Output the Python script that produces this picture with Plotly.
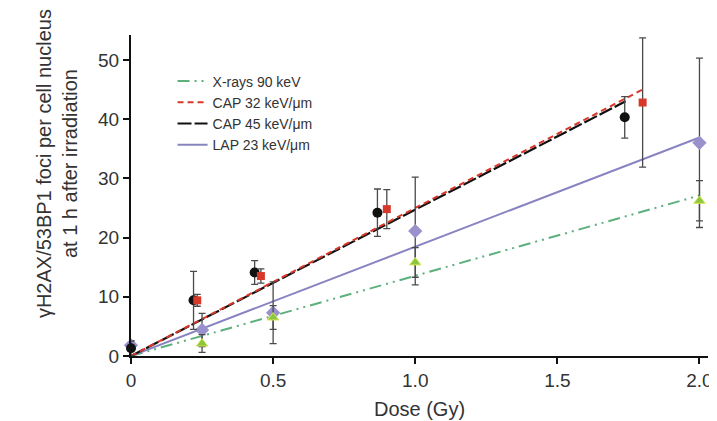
import plotly.graph_objects as go

# ---- data ----
xray_x = [0.25, 0.5, 1.0, 2.0]
xray_y = [2.1, 6.5, 15.8, 26.2]
xray_err = [1.5, 2.0, 2.5, 3.4]

cap32_x = [0.233, 0.457, 0.90, 1.80]
cap32_y = [9.4, 13.5, 24.8, 42.8]
cap32_err = [1.0, 1.2, 3.3, 10.9]

cap45_x = [0.0, 0.22, 0.435, 0.867, 1.737]
cap45_y = [1.3, 9.4, 14.1, 24.2, 40.3]
cap45_err = [1.2, 4.9, 2.0, 4.0, 3.5]

lap_x = [0.0, 0.25, 0.5, 1.0, 2.0]
lap_y = [1.8, 4.4, 7.3, 21.1, 36.0]
lap_err = [0.8, 2.8, 5.2, 9.1, 14.3]

# linear fits (through origin), endpoints
fit_xray_x, fit_xray_y = [0, 2.0], [0, 27.1]
fit_cap32_x, fit_cap32_y = [0, 1.8], [0, 45.0]
fit_cap45_x, fit_cap45_y = [0, 1.74], [0, 43.0]
fit_lap_x, fit_lap_y = [0, 2.0], [0, 36.9]

x_ticks = [0, 0.5, 1.0, 1.5, 2.0]
x_ticklabels = ["0", "0.5", "1.0", "1.5", "2.0"]
y_ticks = [0, 10, 20, 30, 40, 50]

GREEN = "#5bb07c"
RED = "#d8382a"
BLACK = "#111111"
PURPLE = "#8884c2"
ERRC = "#4a4a4a"

fig = go.Figure()

def err(vals):
    return dict(type="data", array=vals, visible=True, color=ERRC, thickness=1.3, width=3.5)

# fit lines
fig.add_trace(go.Scatter(x=fit_xray_x, y=fit_xray_y, mode="lines", name="X-rays 90 keV",
                         line=dict(color=GREEN, width=2, dash="12px,5px,2px,5px,2px,5px"),
                         legendrank=1, cliponaxis=False))
fig.add_trace(go.Scatter(x=fit_lap_x, y=fit_lap_y, mode="lines", name="LAP 23 keV/\u03bcm",
                         line=dict(color=PURPLE, width=2), legendrank=4, cliponaxis=False))
fig.add_trace(go.Scatter(x=fit_cap45_x, y=fit_cap45_y, mode="lines", name="CAP 45 keV/\u03bcm",
                         line=dict(color=BLACK, width=2.2, dash="14px,3px"), legendrank=3, cliponaxis=False))
fig.add_trace(go.Scatter(x=fit_cap32_x, y=fit_cap32_y, mode="lines", name="CAP 32 keV/\u03bcm",
                         line=dict(color=RED, width=2, dash="6px,4px"), legendrank=2, cliponaxis=False))

# data points with error bars
fig.add_trace(go.Scatter(x=lap_x, y=lap_y, mode="markers", showlegend=False, error_y=err(lap_err),
                         marker=dict(symbol="diamond", size=11, color="#9a90cc"), cliponaxis=False))
fig.add_trace(go.Scatter(x=xray_x, y=xray_y, mode="markers", showlegend=False, error_y=err(xray_err),
                         marker=dict(symbol="triangle-up", size=10, color="#8cc63f",
                                     line=dict(color="#d8e65a", width=1)), cliponaxis=False))
fig.add_trace(go.Scatter(x=cap45_x, y=cap45_y, mode="markers", showlegend=False, error_y=err(cap45_err),
                         marker=dict(symbol="circle", size=10, color=BLACK), cliponaxis=False))
fig.add_trace(go.Scatter(x=cap32_x, y=cap32_y, mode="markers", showlegend=False, error_y=err(cap32_err),
                         marker=dict(symbol="square", size=8, color=RED), cliponaxis=False))

axis_font = dict(family="Liberation Sans, Arial, sans-serif", size=19, color="#333333")
title_font = dict(family="Liberation Sans, Arial, sans-serif", size=20, color="#333333")

fig.update_layout(
    width=717, height=421,
    margin=dict(l=123, r=17, t=27, b=71),
    plot_bgcolor="white", paper_bgcolor="white",
    font=axis_font,
    showlegend=True,
    legend=dict(x=0.072, y=0.905, xanchor="left", yanchor="top", bgcolor="rgba(0,0,0,0)",
                font=dict(family="Liberation Sans, Arial, sans-serif", size=14, color="#333333"),
                itemwidth=30, traceorder="normal"),
    xaxis=dict(range=[0, 2.03], tickvals=x_ticks, ticktext=x_ticklabels, showgrid=False, zeroline=False,
               showline=True, linecolor=BLACK, linewidth=2, ticks="outside", ticklen=6, tickwidth=2,
               tickcolor=BLACK, tickfont=axis_font,
               title=dict(text="Dose (Gy)", font=title_font, standoff=12)),
    yaxis=dict(range=[0, 54.2], tickvals=y_ticks, showgrid=False, zeroline=False,
               showline=True, linecolor=BLACK, linewidth=2, ticks="outside", ticklen=6, tickwidth=2,
               tickcolor=BLACK, tickfont=axis_font),
    annotations=[dict(text="\u03b3H2AX/53BP1 foci per cell nucleus<br>at 1 h after irradiation",
                      xref="paper", yref="paper", x=-0.127, y=0.6, xanchor="center", yanchor="middle",
                      textangle=-90, showarrow=False, font=title_font)],
)

fig.write_html("out.html")
